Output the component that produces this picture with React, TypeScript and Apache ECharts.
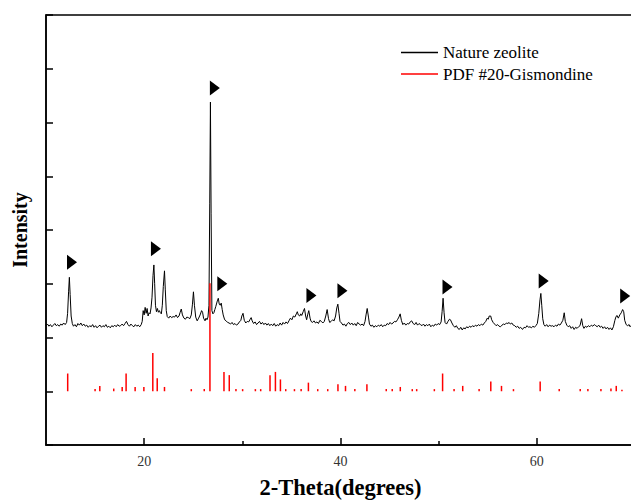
import React, { useEffect, useRef } from "react";
import * as echarts from "echarts";

const X_MIN = 10;
const X_MAX = 70;
const Y_MIN = 0;
const Y_MAX = 8;
const X_MAJOR_TICKS = [20, 40, 60];
const X_MINOR_TICKS = [30, 50];
const REF_BASE = 1;

const SERIES_SAMPLE = "Nature zeolite";
const SERIES_REF = "PDF #20-Gismondine";

// measured XRD pattern [2theta, intensity]
const sampleCurve: number[][] = [
  [10.0,2.22],[10.15,2.25],[10.3,2.21],[10.45,2.24],[10.6,2.20],[10.75,2.23],[10.9,2.26],[11.05,2.22],[11.2,2.24],[11.35,2.21],
  [11.5,2.25],[11.65,2.23],[11.8,2.27],[11.95,2.24],[12.1,2.28],[12.2,2.45],[12.3,2.85],[12.38,3.12],[12.46,2.80],[12.56,2.40],
  [12.68,2.26],[12.8,2.21],[12.95,2.24],[13.1,2.20],[13.25,2.26],[13.4,2.23],[13.55,2.27],[13.7,2.22],[13.85,2.25],[14.0,2.21],
  [14.15,2.23],[14.3,2.19],[14.45,2.22],[14.6,2.20],[14.75,2.24],[14.9,2.19],[15.05,2.22],[15.2,2.18],[15.35,2.21],[15.5,2.23],
  [15.65,2.19],[15.8,2.22],[15.95,2.20],[16.1,2.24],[16.25,2.19],[16.4,2.21],[16.55,2.18],[16.7,2.22],[16.85,2.20],[17.0,2.23],
  [17.15,2.20],[17.3,2.24],[17.45,2.21],[17.6,2.22],[17.75,2.25],[17.9,2.22],[18.05,2.26],[18.2,2.30],[18.35,2.24],[18.5,2.21],
  [18.65,2.25],[18.8,2.22],[18.95,2.20],[19.1,2.24],[19.25,2.21],[19.4,2.23],[19.55,2.20],[19.7,2.24],[19.8,2.30],[19.9,2.50],
  [20.0,2.42],[20.1,2.56],[20.2,2.45],[20.3,2.54],[20.4,2.40],[20.5,2.46],[20.6,2.44],[20.7,2.55],[20.8,2.75],[20.9,3.15],
  [20.99,3.35],[21.07,3.0],[21.15,2.6],[21.25,2.48],[21.35,2.54],[21.45,2.47],[21.55,2.50],[21.65,2.46],[21.75,2.44],[21.85,2.60],
  [21.95,2.95],[22.07,3.24],[22.15,2.90],[22.25,2.50],[22.35,2.39],[22.5,2.36],[22.65,2.40],[22.8,2.37],[22.95,2.39],[23.1,2.38],
  [23.25,2.42],[23.4,2.37],[23.55,2.40],[23.65,2.46],[23.78,2.53],[23.9,2.42],[24.05,2.36],[24.2,2.34],[24.35,2.38],[24.5,2.37],
  [24.65,2.35],[24.8,2.42],[24.92,2.62],[25.02,2.85],[25.12,2.60],[25.25,2.38],[25.4,2.31],[25.55,2.36],[25.7,2.42],[25.85,2.50],
  [25.95,2.47],[26.05,2.36],[26.2,2.31],[26.3,2.36],[26.4,2.33],[26.5,2.38],[26.6,2.6],[26.68,4.5],[26.75,6.38],[26.82,4.3],
  [26.9,2.5],[27.0,2.44],[27.1,2.46],[27.2,2.52],[27.3,2.58],[27.45,2.68],[27.55,2.73],[27.65,2.62],[27.75,2.60],[27.85,2.64],
  [27.95,2.52],[28.05,2.42],[28.2,2.33],[28.35,2.31],[28.5,2.28],[28.65,2.27],[28.8,2.25],[28.95,2.28],[29.1,2.24],[29.25,2.26],
  [29.4,2.23],[29.55,2.25],[29.7,2.29],[29.85,2.32],[29.95,2.40],[30.07,2.45],[30.2,2.32],[30.35,2.27],[30.5,2.30],[30.65,2.29],
  [30.8,2.34],[30.9,2.37],[31.0,2.31],[31.15,2.26],[31.3,2.29],[31.45,2.24],[31.6,2.27],[31.75,2.30],[31.9,2.25],[32.05,2.28],
  [32.2,2.24],[32.35,2.27],[32.5,2.23],[32.65,2.26],[32.8,2.22],[32.95,2.25],[33.1,2.22],[33.25,2.26],[33.4,2.21],[33.55,2.24],
  [33.7,2.22],[33.85,2.27],[34.0,2.23],[34.15,2.28],[34.3,2.25],[34.45,2.29],[34.6,2.26],[34.75,2.31],[34.9,2.36],[35.05,2.33],
  [35.2,2.40],[35.35,2.38],[35.5,2.44],[35.6,2.48],[35.7,2.42],[35.85,2.40],[35.95,2.44],[36.05,2.41],[36.2,2.48],[36.33,2.54],
  [36.45,2.40],[36.55,2.33],[36.65,2.42],[36.77,2.50],[36.9,2.36],[37.0,2.30],[37.15,2.28],[37.3,2.31],[37.45,2.27],[37.6,2.29],
  [37.75,2.26],[37.9,2.32],[38.05,2.30],[38.2,2.27],[38.35,2.30],[38.5,2.40],[38.64,2.52],[38.78,2.35],[38.9,2.28],[39.05,2.30],
  [39.2,2.33],[39.35,2.31],[39.5,2.40],[39.62,2.55],[39.73,2.62],[39.85,2.45],[39.95,2.30],[40.1,2.27],[40.25,2.23],[40.4,2.25],
  [40.55,2.21],[40.7,2.26],[40.85,2.28],[41.0,2.24],[41.15,2.27],[41.3,2.23],[41.45,2.26],[41.6,2.22],[41.75,2.28],[41.9,2.25],
  [42.05,2.23],[42.2,2.25],[42.35,2.22],[42.5,2.30],[42.6,2.42],[42.72,2.54],[42.85,2.38],[42.95,2.25],[43.1,2.21],[43.25,2.23],
  [43.4,2.19],[43.55,2.22],[43.7,2.20],[43.85,2.23],[44.0,2.21],[44.15,2.24],[44.3,2.20],[44.45,2.23],[44.6,2.22],[44.75,2.26],
  [44.9,2.24],[45.05,2.28],[45.2,2.25],[45.35,2.27],[45.5,2.30],[45.65,2.29],[45.8,2.33],[45.95,2.38],[46.08,2.44],[46.2,2.32],
  [46.35,2.24],[46.5,2.27],[46.65,2.23],[46.8,2.26],[46.95,2.25],[47.1,2.29],[47.25,2.31],[47.4,2.26],[47.55,2.24],[47.7,2.28],
  [47.85,2.23],[48.0,2.26],[48.15,2.24],[48.3,2.22],[48.45,2.25],[48.6,2.21],[48.75,2.24],[48.9,2.22],[49.05,2.25],[49.2,2.20],
  [49.35,2.23],[49.5,2.21],[49.65,2.25],[49.8,2.23],[49.95,2.26],[50.1,2.24],[50.25,2.29],[50.35,2.48],[50.45,2.73],[50.55,2.46],
  [50.65,2.28],[50.8,2.25],[50.95,2.30],[51.1,2.34],[51.2,2.33],[51.35,2.27],[51.5,2.22],[51.65,2.19],[51.8,2.22],[51.95,2.17],
  [52.1,2.15],[52.25,2.19],[52.4,2.14],[52.55,2.18],[52.7,2.16],[52.85,2.20],[53.0,2.18],[53.15,2.21],[53.3,2.19],[53.45,2.22],
  [53.6,2.20],[53.75,2.23],[53.9,2.21],[54.05,2.24],[54.2,2.22],[54.35,2.25],[54.5,2.23],[54.65,2.27],[54.8,2.30],[54.95,2.36],
  [55.05,2.34],[55.15,2.40],[55.3,2.40],[55.4,2.33],[55.55,2.28],[55.7,2.25],[55.85,2.22],[56.0,2.24],[56.15,2.21],[56.3,2.20],
  [56.45,2.23],[56.6,2.25],[56.75,2.24],[56.9,2.27],[57.05,2.26],[57.17,2.28],[57.3,2.25],[57.45,2.27],[57.6,2.23],[57.75,2.22],
  [57.9,2.19],[58.05,2.21],[58.2,2.17],[58.35,2.19],[58.54,2.15],[58.7,2.19],[58.85,2.18],[59.0,2.22],[59.15,2.19],[59.3,2.20],
  [59.45,2.18],[59.6,2.21],[59.75,2.19],[59.9,2.22],[60.05,2.26],[60.2,2.45],[60.32,2.70],[60.41,2.82],[60.5,2.60],[60.6,2.35],
  [60.72,2.24],[60.85,2.21],[61.0,2.24],[61.15,2.20],[61.3,2.23],[61.45,2.21],[61.6,2.22],[61.75,2.20],[61.9,2.23],[62.05,2.21],
  [62.2,2.25],[62.35,2.23],[62.5,2.27],[62.65,2.32],[62.79,2.46],[62.9,2.30],[63.05,2.23],[63.2,2.20],[63.35,2.22],[63.5,2.17],
  [63.65,2.20],[63.8,2.15],[63.95,2.19],[64.1,2.17],[64.25,2.20],[64.4,2.22],[64.56,2.35],[64.68,2.22],[64.8,2.17],[64.95,2.21],
  [65.1,2.19],[65.25,2.22],[65.4,2.20],[65.55,2.23],[65.7,2.21],[65.85,2.24],[66.0,2.22],[66.15,2.20],[66.3,2.23],[66.45,2.19],
  [66.6,2.21],[66.75,2.17],[66.9,2.20],[67.05,2.16],[67.2,2.19],[67.35,2.15],[67.5,2.18],[67.65,2.14],[67.8,2.20],[67.95,2.32],
  [68.05,2.38],[68.16,2.41],[68.3,2.36],[68.45,2.42],[68.6,2.46],[68.74,2.52],[68.85,2.48],[68.95,2.32],[69.1,2.24],[69.25,2.22],
  [69.4,2.24],[69.5,2.20],[69.65,2.23],[69.8,2.21],[70.0,2.22],
];

// reference stick positions [2theta, top of stick]; sticks rise from REF_BASE
const refPeaks: number[][] = [
  [12.21,1.33],[15.0,1.04],[15.48,1.10],[16.9,1.05],[17.76,1.08],[18.16,1.33],[19.08,1.08],[19.97,1.08],
  [20.88,1.71],[21.33,1.24],[22.07,1.08],[24.8,1.04],[26.12,1.04],[26.7,3.01],[28.13,1.36],[28.67,1.30],
  [29.35,1.04],[30.03,1.04],[31.33,1.04],[31.87,1.04],[32.82,1.30],[33.37,1.36],[33.88,1.22],[34.42,1.04],
  [35.31,1.04],[35.99,1.04],[36.73,1.16],[37.68,1.04],[38.7,1.04],[39.74,1.13],[40.51,1.10],[41.46,1.04],
  [42.69,1.13],[44.66,1.04],[45.27,1.04],[46.09,1.08],[47.31,1.04],[47.76,1.04],[49.56,1.04],[50.4,1.33],
  [51.57,1.04],[52.45,1.10],[54.12,1.04],[55.31,1.18],[56.4,1.10],[57.62,1.04],[60.34,1.18],[62.28,1.04],
  [64.42,1.04],[65.2,1.04],[66.53,1.04],[67.55,1.05],[68.09,1.10],[68.67,1.03],
];

// triangle marker positions [2theta, intensity]
const markerPoints: number[][] = [
  [12.65,3.40],[21.2,3.65],[27.2,6.64],[27.96,3.0],[37.04,2.78],
  [40.2,2.87],[50.9,2.94],[60.7,3.05],[69.0,2.77],
];

const SERIF = "Liberation Serif";

export default function App() {
  const ref = useRef<HTMLDivElement>(null);

  useEffect(() => {
    if (!ref.current) return;
    const chart = echarts.init(ref.current, undefined, { renderer: "svg" });
    const axisLineStyle = { color: "#000", width: 1.5 };
    chart.setOption({
      animation: false,
      backgroundColor: "#fff",
      textStyle: { fontFamily: SERIF },
      grid: {
        left: 46,
        top: 15,
        bottom: 58,
        right: -4,
        outerBoundsMode: "none",
        show: true,
        borderColor: "#000",
        borderWidth: 1.5,
        containLabel: false,
      },
      legend: {
        data: [
          { name: SERIES_SAMPLE, textStyle: { fontFamily: SERIF, fontSize: 17, color: "#000" } },
          { name: SERIES_REF, textStyle: { fontFamily: SERIF, fontSize: 17, color: "#000" } },
        ],
        orient: "vertical",
        left: 401,
        top: 44,
        padding: 0,
        icon: "rect",
        itemWidth: 37,
        itemHeight: 1.5,
        itemGap: 4.5,
        textStyle: { fontFamily: SERIF, fontSize: 17, color: "#000" },
      },
      xAxis: [
        {
          type: "value",
          min: X_MIN,
          max: X_MAX,
          position: "bottom",
          axisLine: { show: true, onZero: false, lineStyle: axisLineStyle },
          axisTick: { show: true, inside: true, length: 7, customValues: X_MAJOR_TICKS, lineStyle: axisLineStyle },
          axisLabel: { show: true, customValues: X_MAJOR_TICKS, color: "#333", fontFamily: SERIF, fontSize: 14, margin: 9 },
          splitLine: { show: false },
          name: "2-Theta(degrees)",
          nameLocation: "middle",
          nameGap: 31,
          nameTextStyle: { fontFamily: SERIF, fontWeight: "bold", fontSize: 22.5, color: "#000" },
        },
        {
          type: "value",
          min: X_MIN,
          max: X_MAX,
          position: "bottom",
          axisLine: { show: false },
          axisTick: { show: true, inside: true, length: 4, customValues: X_MINOR_TICKS, lineStyle: axisLineStyle },
          axisLabel: { show: false },
          splitLine: { show: false },
        },
      ],
      yAxis: {
        type: "value",
        min: Y_MIN,
        max: Y_MAX,
        interval: 1,
        axisLine: { show: true, onZero: false, lineStyle: axisLineStyle },
        axisTick: { show: true, inside: true, length: 7, lineStyle: axisLineStyle },
        axisLabel: { show: false },
        splitLine: { show: false },
        name: "Intensity",
        nameLocation: "middle",
        nameGap: 16,
        nameTextStyle: { fontFamily: SERIF, fontWeight: "bold", fontSize: 20, color: "#000" },
      },
      series: [
        {
          name: SERIES_SAMPLE,
          type: "line",
          data: sampleCurve,
          showSymbol: false,
          symbol: "none",
          lineStyle: { color: "#000", width: 1 },
          itemStyle: { color: "#000" },
          z: 2,
        },
        {
          name: SERIES_REF,
          type: "custom",
          data: refPeaks,
          encode: { x: 0, y: 1 },
          itemStyle: { color: "#ff0000" },
          renderItem: (_params: any, api: any) => {
            const x = api.value(0);
            const top = api.value(1);
            const p0 = api.coord([x, REF_BASE]);
            const p1 = api.coord([x, top]);
            return {
              type: "line",
              shape: { x1: p0[0], y1: p0[1], x2: p1[0], y2: p1[1] },
              style: { stroke: "#ff0000", lineWidth: 1.5 },
            };
          },
          z: 3,
        },
        {
          name: "markers",
          type: "scatter",
          data: markerPoints,
          symbol: "triangle",
          symbolRotate: -90,
          symbolSize: [15, 10],
          itemStyle: { color: "#000", opacity: 1 },
          z: 4,
        },
      ],
    });
    return () => chart.dispose();
  }, []);

  return (
    <div
      ref={ref}
      style={{ position: "absolute", left: 0, top: 0, width: 631, height: 503, background: "#fff" }}
    />
  );
}
